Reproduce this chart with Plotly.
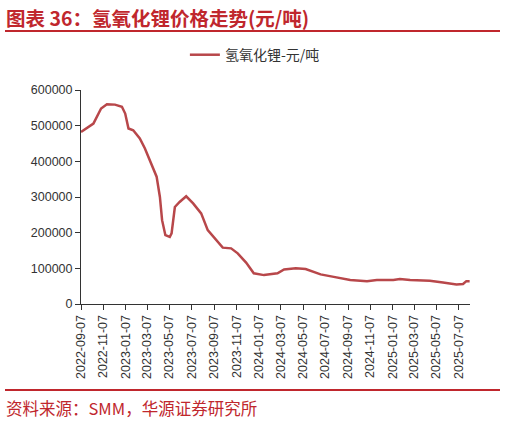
import plotly.graph_objects as go

# 氢氧化锂价格（元/吨），从原图读取的近似值
dates = ["2022-09-07", "2022-10-11", "2022-11-01", "2022-11-17", "2022-12-09",
         "2022-12-28", "2023-01-06", "2023-01-15", "2023-01-28", "2023-02-15",
         "2023-03-01", "2023-03-19", "2023-04-02", "2023-04-11", "2023-04-17",
         "2023-04-26", "2023-05-08", "2023-05-13", "2023-05-22", "2023-06-04",
         "2023-06-22", "2023-07-11", "2023-08-02", "2023-08-20", "2023-09-07",
         "2023-09-30", "2023-10-23", "2023-11-10", "2023-12-03", "2023-12-24",
         "2024-01-21", "2024-02-27", "2024-03-16", "2024-04-17", "2024-05-14",
         "2024-06-24", "2024-07-30", "2024-09-13", "2024-10-29", "2024-11-25",
         "2025-01-09", "2025-01-27", "2025-02-24", "2025-04-19", "2025-05-25",
         "2025-07-01", "2025-07-19", "2025-07-28", "2025-08-06"]
price = [482000, 506000, 548000, 560000, 559000,
         553000, 534000, 492000, 487000, 464000,
         436000, 394000, 357000, 300000, 235000,
         193000, 188000, 198000, 272000, 286000,
         302000, 282000, 254000, 207000, 184000,
         158000, 156000, 142000, 116000, 86000,
         81000, 86000, 97000, 100000, 98000,
         83000, 76000, 67000, 64000, 67000,
         67000, 70000, 67000, 65000, 60000,
         55000, 56000, 64000, 64000]

tick_dates = ["2022-09-07", "2022-11-07", "2023-01-07", "2023-03-07", "2023-05-07",
              "2023-07-07", "2023-09-07", "2023-11-07", "2024-01-07", "2024-03-07",
              "2024-05-07", "2024-07-07", "2024-09-07", "2024-11-07", "2025-01-07",
              "2025-03-07", "2025-05-07", "2025-07-07"]

red = "#c0272d"
line_col = "#b8474a"

fig = go.Figure()
fig.add_trace(go.Scatter(x=dates, y=price, mode="lines", name="氢氧化锂-元/吨",
                         line=dict(color=line_col, width=2.5)))

fig.update_layout(
    width=506, height=424,
    margin=dict(l=81, r=36, t=90, b=120),
    plot_bgcolor="white", paper_bgcolor="white",
    font=dict(family="Liberation Sans, Arial, sans-serif", color="#333333"),
    showlegend=True,
    legend=dict(orientation="h", x=0.447, xanchor="center", y=1.163, yanchor="middle",
                font=dict(size=14, family="Noto Sans CJK SC", color="#333333")),
    xaxis=dict(type="date", range=["2022-09-07", "2025-08-07"],
               tickvals=tick_dates, ticktext=tick_dates, tickangle=-90,
               showgrid=False, showline=True, linecolor="#333333", linewidth=1,
               ticks="outside", ticklen=5, tickcolor="#333333",
               tickfont=dict(size=12.5, family="Liberation Sans")),
    yaxis=dict(range=[0, 600000], dtick=100000, tickformat="d",
               showgrid=False, zeroline=False, showline=True, linecolor="#333333",
               linewidth=1, ticks="outside", ticklen=5, tickcolor="#333333",
               tickfont=dict(size=12.5, family="Liberation Sans")),
)

# 标题与来源
fig.add_annotation(text="<b>图表 36：氢氧化锂价格走势(元/吨)</b>", xref="paper", yref="paper",
                   x=-77/389, y=1 + 73/214, xanchor="left", yanchor="middle", showarrow=False,
                   font=dict(size=19.5, color=red, family="Noto Sans CJK SC"))
fig.add_annotation(text="资料来源：SMM，华源证券研究所", xref="paper", yref="paper",
                   x=-77/389, y=-104/214, xanchor="left", yanchor="middle", showarrow=False,
                   font=dict(size=16.5, color=red, family="Noto Sans CJK SC"))
fig.add_shape(type="line", xref="paper", yref="paper", x0=-76/389, x1=419/389,
              y0=1 + 59/214, y1=1 + 59/214, line=dict(color=red, width=2))
fig.add_shape(type="line", xref="paper", yref="paper", x0=-76/389, x1=419/389,
              y0=-86/214, y1=-86/214, line=dict(color=red, width=2))

fig.write_html("out.html", config={"displayModeBar": False},
               post_script="document.body.style.margin='0';")
